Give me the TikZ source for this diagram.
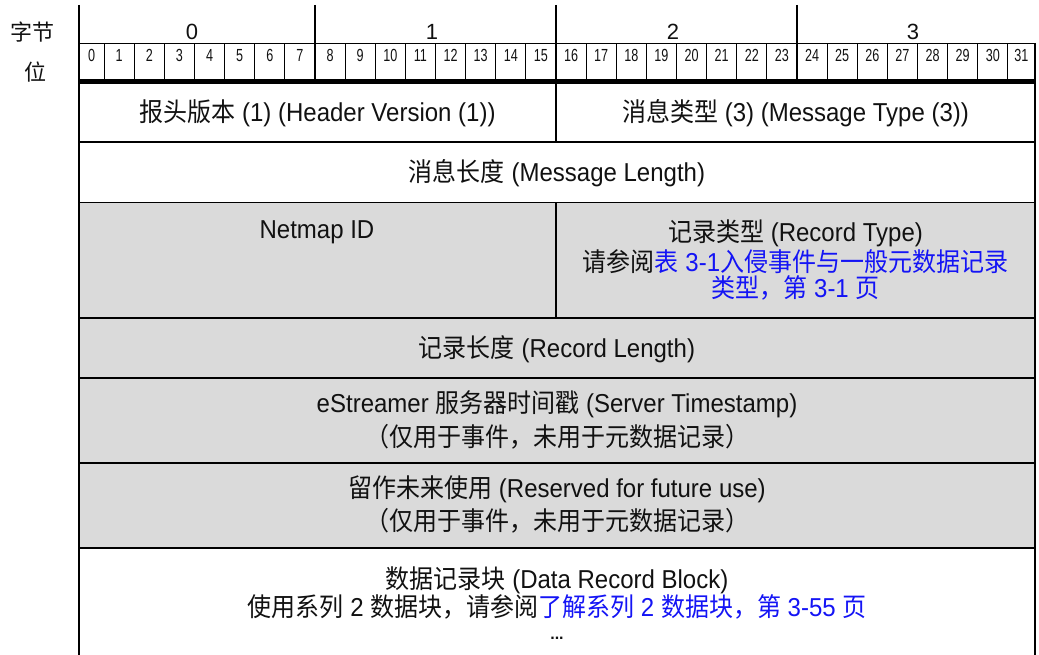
\documentclass[tikz,border=0pt]{standalone}
\usepackage{fontspec}
\setmainfont{Liberation Sans}
\newfontfamily\cjkfont{Noto Sans CJK SC}
\newcommand\zh[1]{{\cjkfont #1}}
\newcommand\tallbox[1]{\scalebox{1}[1.08]{#1}}
\definecolor{cellgray}{HTML}{DADADA}
\definecolor{linkblue}{HTML}{1414F5}
\definecolor{inkcol}{HTML}{111111}
\begin{document}
\begin{tikzpicture}[x=1pt,y=-1pt,
  txt/.style={font=\fontsize{24}{28}\selectfont, inner sep=0pt, anchor=base, text=inkcol},
  sidelab/.style={font=\fontsize{22}{24}\selectfont\cjkfont, inner sep=0pt, anchor=base, text=inkcol},
  bitnum/.style={font=\fontsize{17.5}{18}\selectfont, inner sep=0pt, anchor=base, text=inkcol},
  bytenum/.style={font=\fontsize{22}{24}\selectfont, inner sep=0pt, anchor=base, text=inkcol},
  border/.style={line width=2.5pt},
  bytesep/.style={line width=2pt},
  bitsep/.style={line width=1pt},
  rowsep/.style={line width=1.8pt},
  heavysep/.style={line width=2.6pt},
  topbar/.style={line width=4.5pt},
]
\useasboundingbox (0,0) rectangle (1039,655);
% gray band
\fill[cellgray] (79,202.5) rectangle (1035,548);
% bit separators
\foreach \k in {1,...,31} {
  \pgfmathsetmacro\xx{74+30.125*\k}
  \draw[bitsep] (\xx,43.5) -- (\xx,79);
}
% byte separators
\draw[bytesep] (315,5) -- (315,80);
\draw[bytesep] (797,5) -- (797,80);
\draw[bytesep] (556,5) -- (556,142);
\draw[bytesep] (556,202.5) -- (556,318);
% horizontal lines
\draw[rowsep] (79,43.5) -- (1035,43.5);
\draw[topbar] (79,81.5) -- (1035,81.5);
\draw[rowsep] (79,142) -- (1035,142);
\draw[rowsep] (79,202.5) -- (1035,202.5);
\draw[rowsep] (79,318) -- (1035,318);
\draw[rowsep] (79,378) -- (1035,378);
\draw[heavysep] (79,463) -- (1035,463);
\draw[heavysep] (79,548) -- (1035,548);
% borders
\draw[border] (79,5) -- (79,655);
\draw[border] (1035,43) -- (1035,655);
% side labels
\node[sidelab] (lbyte) at (32,41) {字节};
\node[sidelab] (lbit) at (35,81) {位};
% byte numbers
\node[bytenum] (B0) at (192,39.5) {0};
\node[bytenum] (B1) at (432,39.5) {1};
\node[bytenum] (B2) at (673,39.5) {2};
\node[bytenum] (B3) at (913,39.5) {3};
% bit numbers
\foreach \k in {0,...,31} {
  \pgfmathsetmacro\xa{max(79,74+30.125*\k)}
  \pgfmathsetmacro\xb{min(1035,74+30.125*(\k+1))}
  \pgfmathsetmacro\xc{(\xa+\xb)/2}
  \node[bitnum] (b\k) at (\xc,62) {\scalebox{0.72}[1]{\k}};
}
% row texts
\node[txt] (r1a) at (317.5,121.5) {\tallbox{\zh{报头版本} (1) (Header Version (1))}};
\node[txt] (r1b) at (795.5,121.5) {\tallbox{\zh{消息类型} (3) (Message Type (3))}};
\node[txt] (r2) at (557,182) {\tallbox{\zh{消息长度} (Message Length)}};
\node[txt] (r3a) at (317,239) {\tallbox{Netmap ID}};
\node[txt] (r3b1) at (795.5,242) {\tallbox{\zh{记录类型} (Record Type)}};
\node[txt] (r3b2) at (795.5,271) {\tallbox{\zh{请参阅}\textcolor{linkblue}{\zh{表} 3-1\zh{入侵事件与一般元数据记录}}}};
\node[txt, text=linkblue] (r3b3) at (795.5,297) {\tallbox{\zh{类型，第} 3-1 \zh{页}}};
\node[txt] (r4) at (557,357) {\tallbox{\zh{记录长度} (Record Length)}};
\node[txt] (r5a) at (557,412) {\tallbox{eStreamer \zh{服务器时间戳} (Server Timestamp)}};
\node[txt] (r5b) at (557,446) {\tallbox{\zh{（仅用于事件，未用于元数据记录）}}};
\node[txt] (r6a) at (557,497) {\tallbox{\zh{留作未来使用} (Reserved for future use)}};
\node[txt] (r6b) at (557,530) {\tallbox{\zh{（仅用于事件，未用于元数据记录）}}};
\node[txt] (r7a) at (557,588) {\tallbox{\zh{数据记录块} (Data Record Block)}};
\node[txt] (r7b) at (557,616) {\tallbox{\zh{使用系列} 2 \zh{数据块，请参阅}\textcolor{linkblue}{\zh{了解系列} 2 \zh{数据块，第} 3-55 \zh{页}}}};
\node[txt, font=\fontsize{16}{16}\selectfont\bfseries] (r7c) at (557,639) {...};
\end{tikzpicture}
\end{document}
